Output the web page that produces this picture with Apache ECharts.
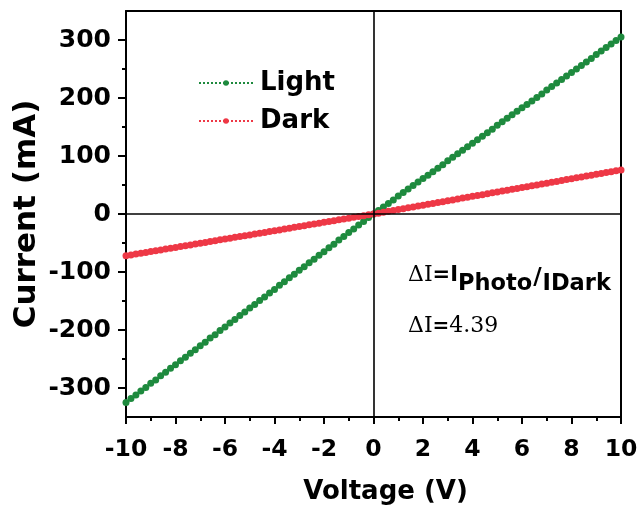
<!DOCTYPE html>
<html>
<head>
<meta charset="utf-8">
<script src="https://cdn.jsdelivr.net/npm/echarts@6/dist/echarts.min.js"></script>
<style>
html,body{margin:0;padding:0;background:#fff;}
#c{width:640px;height:506px;}
</style>
</head>
<body>
<div id="c"></div>
<script>
var voltage = [-10,-9.8,-9.6,-9.4,-9.2,-9,-8.8,-8.6,-8.4,-8.2,-8,-7.8,-7.6,-7.4,-7.2,-7,-6.8,-6.6,-6.4,-6.2,-6,-5.8,-5.6,-5.4,-5.2,-5,-4.8,-4.6,-4.4,-4.2,-4,-3.8,-3.6,-3.4,-3.2,-3,-2.8,-2.6,-2.4,-2.2,-2,-1.8,-1.6,-1.4,-1.2,-1,-0.8,-0.6,-0.4,-0.2,0,0.2,0.4,0.6,0.8,1,1.2,1.4,1.6,1.8,2,2.2,2.4,2.6,2.8,3,3.2,3.4,3.6,3.8,4,4.2,4.4,4.6,4.8,5,5.2,5.4,5.6,5.8,6,6.2,6.4,6.6,6.8,7,7.2,7.4,7.6,7.8,8,8.2,8.4,8.6,8.8,9,9.2,9.4,9.6,9.8,10];
var lightCurrent = [-325,-318,-312,-305,-299,-292,-286,-279,-273,-266,-260,-253,-247,-240,-234,-227,-221,-214,-208,-201,-195,-188,-182,-175,-169,-162,-156,-149,-143,-136,-130,-123,-117,-110,-104,-97,-91,-84,-78,-71,-65,-58,-52,-45,-39,-32,-26,-19,-13,-6,0,6,12,18,24,31,37,43,49,55,61,67,73,79,85,92,98,104,110,116,122,128,134,140,146,153,159,165,171,177,183,189,195,201,207,214,220,226,232,238,244,250,256,262,268,275,281,287,293,299,305];
var darkCurrent = [-72,-70.6,-69.1,-67.7,-66.2,-64.8,-63.4,-61.9,-60.5,-59.0,-57.6,-56.2,-54.7,-53.3,-51.8,-50.4,-49.0,-47.5,-46.1,-44.6,-43.2,-41.8,-40.3,-38.9,-37.4,-36.0,-34.6,-33.1,-31.7,-30.2,-28.8,-27.4,-25.9,-24.5,-23.0,-21.6,-20.2,-18.7,-17.3,-15.8,-14.4,-13.0,-11.5,-10.1,-8.6,-7.2,-5.8,-4.3,-2.9,-1.4,0,1.5,3.0,4.6,6.1,7.6,9.1,10.6,12.2,13.7,15.2,16.7,18.2,19.8,21.3,22.8,24.3,25.8,27.4,28.9,30.4,31.9,33.4,35.0,36.5,38.0,39.5,41.0,42.6,44.1,45.6,47.1,48.6,50.2,51.7,53.2,54.7,56.2,57.8,59.3,60.8,62.3,63.8,65.4,66.9,68.4,69.9,71.4,73.0,74.5,76.0];
var yMajorTicks = [-300,-200,-100,0,100,200,300];
var yMinorTicks = [-250,-150,-50,50,150,250];
var seriesNames = ['Light','Dark'];
var colors = ['#1e8a3e','#ee3846'];

var SANS = "'DejaVu Sans', 'Liberation Sans', Arial, sans-serif";
var SERIF = "'DejaVu Serif', 'Liberation Serif', serif";

var chart = echarts.init(document.getElementById('c'), null, {renderer:'canvas'});

function pairs(ys){ return voltage.map(function(v,i){ return [v, ys[i]]; }); }

var lineBlack = {color:'#000', width:2};

var option = {
  animation:false,
  backgroundColor:'#fff',
  grid:{left:126, right:19, top:11, bottom:89, containLabel:false, outerBoundsMode:'none'},
  legend:{
    orient:'vertical', left:193, top:65,
    itemWidth:54, itemHeight:7, itemGap:12,
    textStyle:{color:'#000', fontFamily:SANS, fontWeight:'bold', fontSize:26, padding:[0,0,0,2]},
    data:[{name:seriesNames[0]},{name:seriesNames[1]}]
  },
  xAxis:[{
    type:'value', min:-10, max:10, interval:2, position:'bottom',
    name:'Voltage (V)', nameLocation:'middle', nameGap:62,
    nameTextStyle:{color:'#000', fontFamily:SANS, fontWeight:'bold', fontSize:26, padding:[0,0,0,24]},
    axisLine:{onZero:false, lineStyle:lineBlack},
    axisTick:{show:true, length:7, lineStyle:{color:'#000', width:2}},
    minorTick:{show:true, splitNumber:2, length:4, lineStyle:{color:'#000', width:2}},
    axisLabel:{margin:21, color:'#000', fontFamily:SANS, fontWeight:'bold', fontSize:23.5},
    splitLine:{show:false}
  },{
    type:'value', min:-10, max:10, interval:2, position:'top',
    axisLine:{onZero:false, lineStyle:lineBlack},
    axisTick:{show:false}, axisLabel:{show:false}, splitLine:{show:false}
  }],
  yAxis:[{
    type:'value', min:-350, max:350, interval:50, position:'left',
    name:'Current (mA)', nameLocation:'middle', nameGap:84, nameRotate:90, nameMoveOverlap:false,
    nameTextStyle:{color:'#000', fontFamily:SANS, fontWeight:'bold', fontSize:31},
    axisLine:{onZero:false, lineStyle:lineBlack},
    axisTick:{show:true, length:8, customValues:yMajorTicks, lineStyle:{color:'#000', width:2}},
    axisLabel:{margin:15, customValues:yMajorTicks, color:'#000', fontFamily:SANS, fontWeight:'bold', fontSize:25},
    splitLine:{show:false}
  },{
    type:'value', min:-350, max:350, interval:50, position:'left', offset:0,
    axisLine:{show:false, onZero:false},
    axisTick:{show:true, length:4, customValues:yMinorTicks, lineStyle:{color:'#000', width:2}},
    axisLabel:{show:false}, splitLine:{show:false}
  },{
    type:'value', min:-350, max:350, interval:50, position:'right',
    axisLine:{onZero:false, lineStyle:lineBlack},
    axisTick:{show:false}, axisLabel:{show:false}, splitLine:{show:false}
  }],
  series:[{
    type:'line', name:'zero', data:[], z:1, silent:true,
    markLine:{
      silent:true, symbol:['none','none'], label:{show:false},
      lineStyle:{color:'#000', width:1.6, type:'solid'},
      data:[{yAxis:0},{xAxis:0}]
    }
  },{
    type:'line', name:seriesNames[0], data:pairs(lightCurrent), z:3,
    symbol:'circle', symbolSize:7, showSymbol:true,
    itemStyle:{color:colors[0]},
    lineStyle:{color:colors[0], width:1.5, type:'dotted'}
  },{
    type:'line', name:seriesNames[1], data:pairs(darkCurrent), z:4,
    symbol:'circle', symbolSize:7, showSymbol:true,
    itemStyle:{color:colors[1]},
    lineStyle:{color:colors[1], width:1.5, type:'dotted'}
  }],
  graphic:[{
    type:'text', left:408, top:264, z:10,
    style:{
      text:'{g|ΔI}{e|=I}{s|Photo}{sl|/}{s|IDark}',
      rich:{
        g:{fontFamily:SERIF, fontSize:22, lineHeight:24, padding:[0,0,10,0], verticalAlign:'bottom', fill:'#000'},
        e:{fontFamily:SANS, fontWeight:'bold', fontSize:21, lineHeight:24, padding:[0,0,10,0], verticalAlign:'bottom', fill:'#000'},
        sl:{fontFamily:SANS, fontWeight:'bold', fontSize:23, lineHeight:24, padding:[0,1,6,1], verticalAlign:'bottom', fill:'#000'},
        s:{fontFamily:SANS, fontWeight:'bold', fontSize:22.5, lineHeight:22, verticalAlign:'bottom', fill:'#000'}
      }
    }
  },{
    type:'text', left:408, top:315, z:10,
    style:{
      text:'{g|ΔI}{e|=}{g|4.39}',
      rich:{
        g:{fontFamily:SERIF, fontSize:22, lineHeight:24, verticalAlign:'bottom', fill:'#000'},
        e:{fontFamily:SANS, fontWeight:'bold', fontSize:20, lineHeight:24, verticalAlign:'bottom', fill:'#000'}
      }
    }
  }]
};
chart.setOption(option);
</script>
</body>
</html>
